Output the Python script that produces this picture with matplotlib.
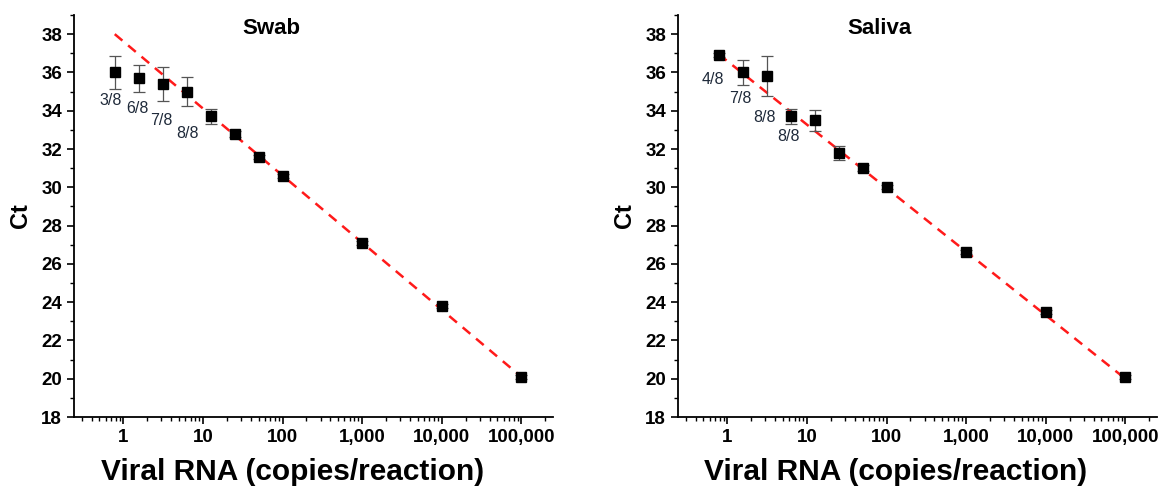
import matplotlib
matplotlib.use("Agg")
import matplotlib.pyplot as plt
import numpy as np
from matplotlib.ticker import FixedLocator, FuncFormatter, LogLocator, NullFormatter, MultipleLocator

plt.rcParams['font.family'] = ['Liberation Sans', 'DejaVu Sans']

copies = [0.78, 1.56, 3.125, 6.25, 12.5, 25, 50, 100, 1000, 10000, 100000]

swab_ct = [36.0, 35.7, 35.4, 35.0, 33.7, 32.8, 31.6, 30.6, 27.1, 23.8, 20.1]
swab_err = [0.85, 0.7, 0.9, 0.75, 0.4, 0.15, 0.1, 0.1, 0.1, 0.1, 0.1]
swab_line_x = [0.78, 100000]
swab_line_y = [38.0, 20.1]
swab_labels = ["3/8", "6/8", "7/8", "8/8"]

saliva_ct = [36.9, 36.0, 35.8, 33.7, 33.5, 31.8, 31.0, 30.0, 26.6, 23.5, 20.1]
saliva_err = [0.1, 0.65, 1.05, 0.4, 0.55, 0.35, 0.15, 0.1, 0.1, 0.1, 0.1]
saliva_line_x = [0.78, 100000]
saliva_line_y = [36.95, 20.0]
saliva_labels = ["4/8", "7/8", "8/8", "8/8"]

x_ticks = [1, 10, 100, 1000, 10000, 100000]
y_ticks = [18, 20, 22, 24, 26, 28, 30, 32, 34, 36, 38]

W, H = 1168, 490
fig = plt.figure(figsize=(W/100, H/100), dpi=100)
ax1 = fig.add_axes([74/W, 1-417/H, (553-74)/W, (417-15)/H])
ax2 = fig.add_axes([678/W, 1-417/H, (1157-678)/W, (417-15)/H])

panels = [
    (ax1, "Swab", swab_ct, swab_err, swab_line_x, swab_line_y, swab_labels,
     [(-4, -28), (-1, -30), (-1, -37), (1, -42)], 0.413, 0.457),
    (ax2, "Saliva", saliva_ct, saliva_err, saliva_line_x, saliva_line_y, saliva_labels,
     [(-6, -24), (-2, -26), (-2, -41), (-2, -20)], 0.42, 0.455),
]

for ax, title, ct, err, lx, ly, labels, offs, tx, lx_pos in panels:
    ax.set_xscale('log')
    ax.plot(lx, ly, linestyle=(0, (4, 3)), color='#ff1a1a', linewidth=1.8, zorder=2)
    ax.errorbar(copies, ct, yerr=err, fmt='s', color='black', markersize=6.5,
                ecolor='#555555', elinewidth=0.9, capsize=4, capthick=0.9, zorder=3)
    for i, lab in enumerate(labels):
        ax.annotate(lab, (copies[i], ct[i]), xytext=offs[i], textcoords='offset pixels',
                    ha='center', va='center', fontsize=11.5, color='#1f2a3a')
    ax.set_xlim(0.24, 2.5e5)
    ax.set_ylim(18, 39)
    ax.xaxis.set_major_locator(FixedLocator(x_ticks))
    ax.xaxis.set_major_formatter(FuncFormatter(lambda v, p: f"{int(round(v)):,}"))
    ax.xaxis.set_minor_locator(LogLocator(base=10, subs=np.arange(2, 10), numticks=20))
    ax.xaxis.set_minor_formatter(NullFormatter())
    ax.yaxis.set_major_locator(FixedLocator(y_ticks))
    ax.yaxis.set_minor_locator(MultipleLocator(1))
    ax.spines['top'].set_visible(False)
    ax.spines['right'].set_visible(False)
    for s in ['left', 'bottom']:
        ax.spines[s].set_linewidth(1.3)
    ax.tick_params(which='major', direction='out', length=5, width=1.2, labelsize=13.5)
    ax.tick_params(which='minor', direction='out', length=3, width=1.0)
    for lbl in ax.get_xticklabels() + ax.get_yticklabels():
        lbl.set_fontweight('bold')
    ax.set_xlabel("Viral RNA (copies/reaction)", fontsize=21.5, fontweight='bold',
                  va='center')
    ax.xaxis.set_label_coords(lx_pos, -0.137)
    ax.set_ylabel("Ct", fontsize=17, fontweight='bold', labelpad=7)
    ax.text(tx, 0.993, title, transform=ax.transAxes, ha='center', va='top',
            fontsize=16, fontweight='bold')

fig.savefig("out.png", dpi=100)
